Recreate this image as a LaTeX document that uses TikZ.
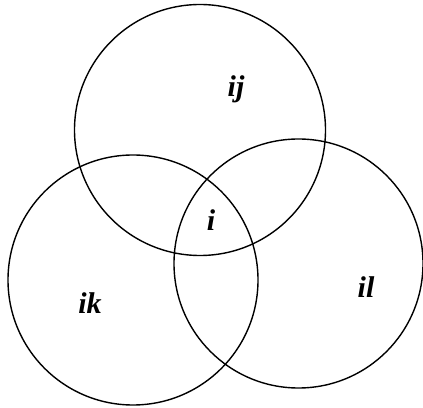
\documentclass[tikz,border=0pt]{standalone}
\usepackage{fontspec}
\setmainfont{Liberation Serif}
\begin{document}
\begin{tikzpicture}[
  x=1pt,y=1pt,
  ring/.style={draw=black,line width=1.4pt},
  label/.style={font=\fontsize{30}{34}\selectfont\bfseries\itshape,text=black},
]
\useasboundingbox (0,0) rectangle (423,407);
\draw[ring] (200,277) circle (125.5);
\draw[ring] (133,127) circle (125);
\draw[ring] (298.5,143.5) circle (124.5);
\node[label] (ij) at (236,318) {ij};
\node[label] (i) at (211,187) {i};
\node[label] (ik) at (90,104) {ik};
\node[label] (il) at (366,120) {il};
\end{tikzpicture}
\end{document}
